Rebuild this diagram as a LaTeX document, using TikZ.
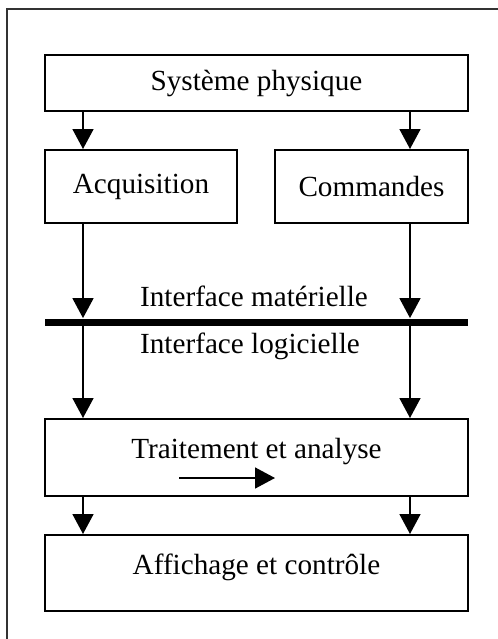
\documentclass[tikz,border=0pt]{standalone}
\usepackage{fontspec}
\setmainfont{Liberation Serif}
\usepackage{tikz}
\usetikzlibrary{arrows.meta}

\begin{document}
\begin{tikzpicture}[x=0.5pt,y=-0.5pt,
		bloc/.style={draw,line width=1pt,inner sep=0pt,font=\fontsize{14.6pt}{17pt}\selectfont},
		texte/.style={inner sep=0pt,font=\fontsize{14.6pt}{17pt}\selectfont},
		fleche/.style={line width=0.8pt,-{Triangle[width=10.5pt,length=10pt]}}]
		\useasboundingbox (0,0) rectangle (498,639);
		% Cadre
		\draw[line width=1pt,black!80] (7,639) -- (7,9) -- (498,9);

		% Blocs
		\node[bloc,minimum width=211.5pt,minimum height=28pt] (sys) at (256.5,83) {Système physique};
		\node[bloc,minimum width=96pt,minimum height=36.5pt] (acq) at (141,186.5) {Acquisition};
		\node[bloc,minimum width=96.5pt,minimum height=36.5pt] (cmd) at (371.5,186.5) {Commandes};
		\node[fill=black,inner sep=0pt,minimum width=211.5pt,minimum height=3.5pt] (bus) at (256.5,322) {};
		\node[bloc,minimum width=211.5pt,minimum height=38.5pt] (trt) at (256.5,457.5) {};
		\node[bloc,minimum width=211.5pt,minimum height=38pt] (aff) at (256.5,573) {};
		\node[texte] (trt-t) at (256.5,452) {Traitement et analyse};
		\node[texte] (aff-t) at (256.5,567) {Affichage et contrôle};

		% Interfaces
		\node[texte] (mat) at (254,296) {Interface matérielle};
		\node[texte] (log) at (250,346) {Interface logicielle};

		% Flux
		\coordinate (g) at (83,0);
		\coordinate (d) at (410,0);
		\draw[fleche] (sys.south -| g) -- (acq.north -| g);
		\draw[fleche] (sys.south -| d) -- (cmd.north -| d);
		\draw[fleche] (acq.south -| g) -- (bus.north -| g);
		\draw[fleche] (cmd.south -| d) -- (bus.north -| d);
		\draw[fleche] (bus.south -| g) -- (trt.north -| g);
		\draw[fleche] (bus.south -| d) -- (trt.north -| d);
		\draw[fleche] (trt.south -| g) -- (aff.north -| g);
		\draw[fleche] (trt.south -| d) -- (aff.north -| d);

		% Sens du traitement
		\coordinate (s1) at (179,478);
		\coordinate (s2) at (275,478);
		\draw[fleche] (s1) -- (s2);
	\end{tikzpicture}
\end{document}
